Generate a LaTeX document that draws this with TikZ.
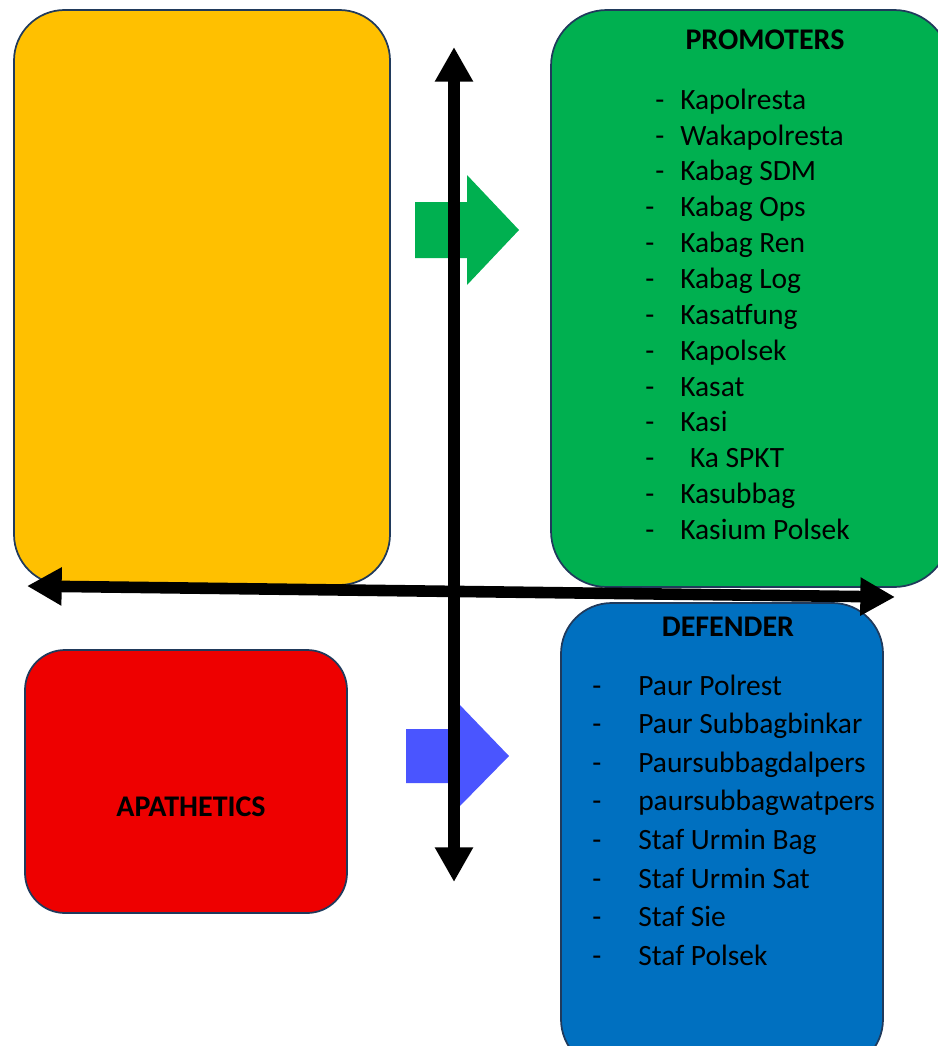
\documentclass[tikz,border=0pt]{standalone}
\usepackage{fontspec}
\setmainfont{Carlito}
\usetikzlibrary{arrows.meta}
\definecolor{cyellow}{HTML}{FFC000}
\definecolor{cgreen}{HTML}{00B050}
\definecolor{cred}{HTML}{EE0000}
\definecolor{cblue}{HTML}{0070C0}
\definecolor{cblock}{HTML}{4A55FF}
\definecolor{cedge}{HTML}{203A5C}
\tikzset{
  quad/.style={draw=cedge, line width=1.3pt},
  item/.style={anchor=base west, inner sep=0pt, font=\fontsize{22.1}{26}\selectfont},
  head/.style={anchor=base, inner sep=0pt, font=\fontsize{22.5}{26}\selectfont\bfseries},
  axis/.style={line width=8.7pt, {Triangle[length=26pt,width=27pt]}-{Triangle[length=26pt,width=27pt]}},
}
\begin{document}
\begin{tikzpicture}[x=0.75pt,y=-0.75pt]
\useasboundingbox (0,0) rectangle (938,1046);
% quadrant boxes
\draw[quad, fill=cyellow, rounded corners=38pt] (14,10) rectangle (390,585);
\draw[quad, fill=cgreen, rounded corners=42pt] (551,10) rectangle (950,587);
\draw[quad, fill=cred, rounded corners=30pt] (25,650) rectangle (347,913);
\draw[quad, fill=cblue, rounded corners=38pt] (561,603) rectangle (883,1070);
% block arrows
\fill[cgreen] (415,202) -- (467,202) -- (467,175) -- (519,230) -- (467,285) -- (467,258) -- (415,258) -- cycle;
\fill[cblock] (406,729) -- (458,729) -- (458,703) -- (509,756) -- (458,808) -- (458,783) -- (406,783) -- cycle;
% axes
\coordinate (top) at (454,47);
\coordinate (bottom) at (454,882);
\coordinate (left) at (27,586);
\coordinate (right) at (895,597);
\draw[axis] (top) -- (bottom);
\draw[axis] (left) -- (right);
% promoters
\node[head] (ph) at (765,49) {PROMOTERS};
\foreach \y/\d/\t/\n in {109/655/Kapolresta/p1, 145/655/Wakapolresta/p2, 180/655/Kabag SDM/p3, 216/645/Kabag Ops/p4, 252/645/Kabag Ren/p5, 288/645/Kabag Log/p6, 324/645/Kasatfung/p7, 360/645/Kapolsek/p8, 396/645/Kasat/p9, 431/645/Kasi/p10, 467/645/{\,\,Ka SPKT}/p11, 503/645/Kasubbag/p12, 539/645/Kasium Polsek/p13}{
  \node[item] (\n d) at (\d,\y) {-};
  \node[item] (\n) at (680,\y) {\t};
}
% defender
\node[head] (dh) at (728,636) {DEFENDER};
\foreach \y/\t/\n in {695/Paur Polrest/d1, 733/Paur Subbagbinkar/d2, 772/Paursubbagdalpers/d3, 810/paursubbagwatpers/d4, 849/Staf Urmin Bag/d5, 888/Staf Urmin Sat/d6, 926/Staf Sie/d7, 965/Staf Polsek/d8}{
  \node[item] (\n d) at (592,\y) {-};
  \node[item] (\n) at (638,\y) {\t};
}
% apathetics
\node[head] (ah) at (191,816) {APATHETICS};
\end{tikzpicture}
\end{document}
